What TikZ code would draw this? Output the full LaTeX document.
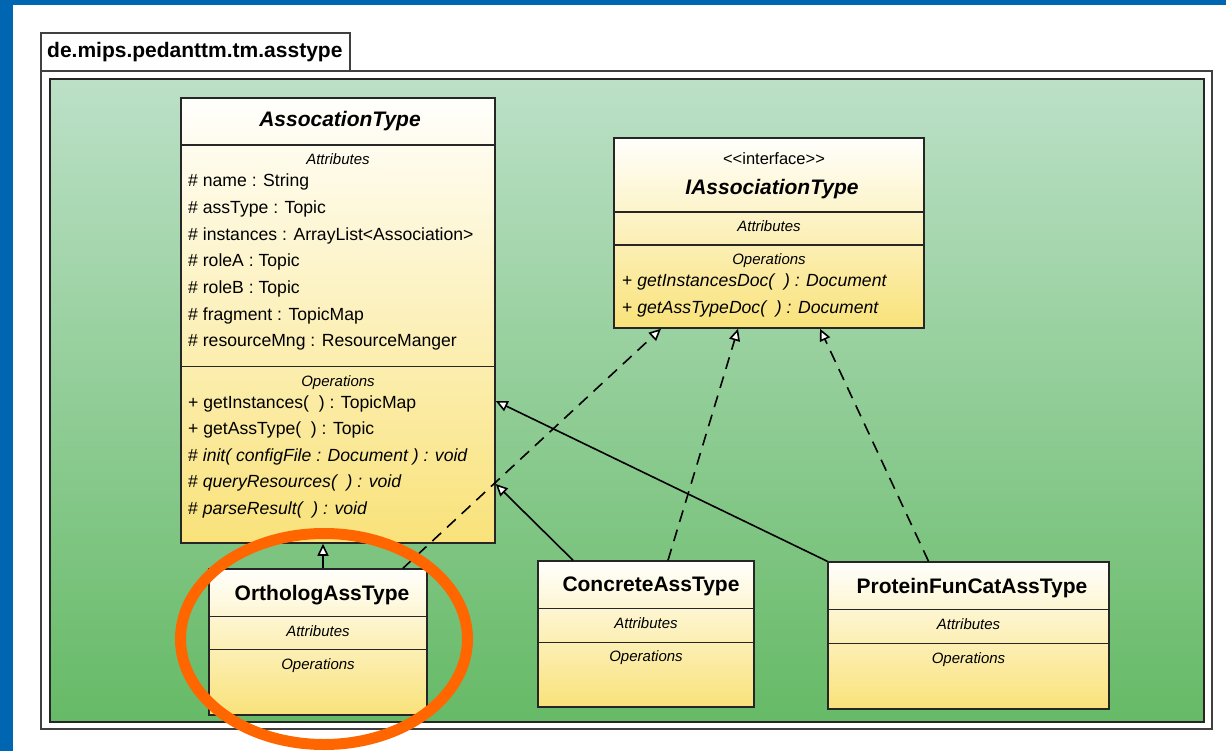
\documentclass[tikz,border=0pt]{standalone}
\usepackage{fontspec}
\setmainfont{Liberation Sans}
\usetikzlibrary{arrows.meta}

\definecolor{frameblue}{RGB}{0,102,178}
\definecolor{pkgtop}{RGB}{188,224,199}
\definecolor{pkgmid}{RGB}{135,202,140}
\definecolor{pkgbottom}{RGB}{102,186,102}
\definecolor{classtop}{RGB}{255,255,252}
\definecolor{classbottom}{RGB}{249,226,122}
\definecolor{ringorange}{RGB}{255,102,0}

\tikzset{
  % class boxes
  classbox/.style = {
    draw = black!85,
    line width = 1.5pt,
    rectangle,
    inner sep = 0,
    top color = classtop,
    bottom color = classbottom
  },
  divider/.style = {
    draw = black!85,
    line width = 1.5pt
  },
  % texts inside the boxes
  classname/.style = {
    anchor = base,
    inner sep = 0,
    font = \bfseries\fontsize{21}{24}\selectfont
  },
  abstractname/.style = {
    classname,
    font = \bfseries\itshape\fontsize{21}{24}\selectfont
  },
  stereo/.style = {
    anchor = base,
    inner sep = 0,
    font = \fontsize{16.5}{19}\selectfont
  },
  section/.style = {
    anchor = base,
    inner sep = 0,
    font = \itshape\fontsize{15}{17}\selectfont
  },
  member/.style = {
    anchor = base west,
    inner sep = 0,
    font = \fontsize{17.6}{20}\selectfont
  },
  % connectors
  generalization/.style = {
    draw = black,
    line width = 1.6pt,
    -{Triangle[fill = white, length = 12pt, width = 11pt]}
  },
  realization/.style = {
    generalization,
    dash pattern = on 12pt off 8pt
  }
}

\begin{document}
\begin{tikzpicture}[x=1pt, y=-1pt]
  \useasboundingbox (0,0) rectangle (1226,751);
  \fill[white] (0,0) rectangle (1226,751);
  \fill[frameblue] (0,0) rectangle (13,751);
  \fill[frameblue] (0,0) rectangle (1226,5);

  % package
  \draw[black!75, line width=1.5pt, fill=white] (41,33) rectangle (350,71);
  \draw[black!75, line width=1.5pt, fill=white] (41,71) rectangle (1212,729);
  \draw[black!85, line width=1.4pt, top color=pkgtop, middle color=pkgmid, bottom color=pkgbottom]
    (50,79) rectangle (1204,722);
  \node[anchor=base west, inner sep=0, font=\bfseries\fontsize{21}{24}\selectfont]
    (pkgname) at (47,58) {de.mips.pedanttm.tm.asstype};

  % boxes
  \node[classbox, minimum width=314pt, minimum height=445pt] (assoc) at (338,320.5) {};
  \node[classbox, minimum width=310pt, minimum height=190pt] (iface) at (769,233) {};
  \node[classbox, minimum width=218pt, minimum height=146pt] (ortho) at (318,642) {};
  \node[classbox, minimum width=216pt, minimum height=146pt] (conc) at (646,634) {};
  \node[classbox, minimum width=281pt, minimum height=147pt] (prot) at (968.5,635.5) {};

  \foreach \cls/\d in {assoc/48, assoc/269, iface/75, iface/108, ortho/48, ortho/81,
                       conc/48, conc/82, prot/48, prot/82}
    \draw[divider] ([yshift=-\d pt]\cls.north west) -- ([yshift=-\d pt]\cls.north east);

  % AssocationType
  \node[abstractname] (assoc-name) at (340,127) {AssocationType};
  \node[section] (assoc-attrs) at (338,165) {Attributes};
  \foreach \txt [count=\i from 0] in {name : String, assType : Topic,
      instances : ArrayList<Association>, roleA : Topic, roleB : Topic,
      fragment : TopicMap, resourceMng : ResourceManger}
    \node[member] (assoc-attr\i) at (188,187+26.6*\i) {\# \txt};
  \node[section] (assoc-ops) at (338,386) {Operations};
  \node[member] (assoc-op1) at (188,408) {+ getInstances(\ \ ) : TopicMap};
  \node[member] (assoc-op2) at (188,434) {+ getAssType(\ \ ) : Topic};
  \node[member] (assoc-op3) at (188,461) {\# \textit{init( configFile : Document ) : void}};
  \node[member] (assoc-op4) at (188,487) {\# \textit{queryResources(\ \ ) : void}};
  \node[member] (assoc-op5) at (188,514) {\# \textit{parseResult(\ \ ) : void}};

  % IAssociationType
  \node[stereo] (iface-stereo) at (774,165) {<{}<interface>{}>};
  \node[abstractname] (iface-name) at (772,195) {IAssociationType};
  \node[section] (iface-attrs) at (769,232) {Attributes};
  \node[section] (iface-ops) at (769,265) {Operations};
  \node[member] (iface-op1) at (622,287) {+ \textit{getInstancesDoc(\ \ ) : Document}};
  \node[member] (iface-op2) at (622,313) {+ \textit{getAssTypeDoc(\ \ ) : Document}};

  % subclasses
  \node[classname] (ortho-name) at (322,600) {OrthologAssType};
  \node[section] (ortho-attrs) at (318,636) {Attributes};
  \node[section] (ortho-ops) at (318,669) {Operations};

  \node[classname] (conc-name) at (651,591) {ConcreteAssType};
  \node[section] (conc-attrs) at (646,628) {Attributes};
  \node[section] (conc-ops) at (646,661) {Operations};

  \node[classname] (prot-name) at (972,593) {ProteinFunCatAssType};
  \node[section] (prot-attrs) at (968.5,629) {Attributes};
  \node[section] (prot-ops) at (968.5,663) {Operations};

  % connectors
  \draw[generalization] ([xshift=5pt]ortho.north) -- ([xshift=-15pt]assoc.south);
  \draw[generalization] ([xshift=-73pt]conc.north) -- ([yshift=-163.5pt]assoc.east);
  \draw[generalization] (prot.north west) -- ([yshift=-80.5pt]assoc.east);

  \draw[realization] ([xshift=85pt]ortho.north) -- ([xshift=-108pt]iface.south);
  \draw[realization] ([xshift=22pt]conc.north) -- ([xshift=-31pt]iface.south);
  \draw[realization] ([xshift=-40pt]prot.north) -- ([xshift=51pt]iface.south);

  % highlight
  \draw[ringorange, line width=11pt] (324,639) ellipse [x radius=143.5, y radius=105.5];
\end{tikzpicture}
\end{document}
